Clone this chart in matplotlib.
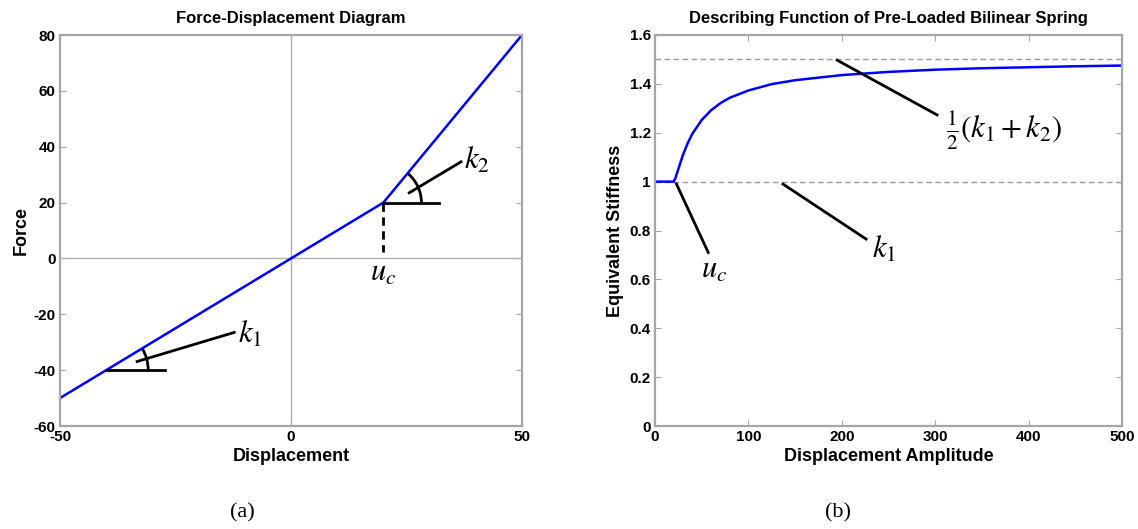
import numpy as np
import matplotlib
matplotlib.use("Agg")
import matplotlib.pyplot as plt
from matplotlib.patches import Arc
from matplotlib.transforms import ScaledTranslation

plt.rcParams["font.family"] = ["Liberation Sans", "DejaVu Sans"]
plt.rcParams["mathtext.fontset"] = "stix"
plt.rcParams["axes.unicode_minus"] = False

# ---- data -------------------------------------------------------------
# force-displacement curve (bilinear, knee at u_c)
disp = [-50, 20, 50]
force = [-50, 20, 80]
k1 = 1.0
k2 = 2.0
u_c = 20

# describing function (equivalent stiffness vs amplitude)
amplitude = [0, 20, 22, 25, 30, 35, 40, 50, 60, 70, 80, 100, 125, 150,
             200, 250, 300, 350, 400, 450, 500]
stiffness = [1.0, 1.0, 1.016, 1.052, 1.110, 1.157, 1.196, 1.252, 1.292,
             1.321, 1.343, 1.373, 1.399, 1.415, 1.436, 1.449, 1.458,
             1.464, 1.468, 1.472, 1.475]
ref_levels = [k1, (k1 + k2) / 2]

left_xticks = [-50, 0, 50]
left_yticks = [-60, -40, -20, 0, 20, 40, 60, 80]
right_xticks = [0, 100, 200, 300, 400, 500]
right_yticks = [0, 0.2, 0.4, 0.6, 0.8, 1.0, 1.2, 1.4, 1.6]
right_yticklabels = ["0", "0.2", "0.4", "0.6", "0.8", "1", "1.2", "1.4", "1.6"]

W, H = 1138, 529
fig = plt.figure(figsize=(W / 100, H / 100), dpi=100)

FRAME = "#a6a6a6"
BLUE = "#0000ff"
ANN_FS = 22
ANN = dict(fontsize=ANN_FS, fontweight="normal")
TITLE_FS = 12
LABEL_FS = 13


def style_axes(ax):
    for s in ax.spines.values():
        s.set_color(FRAME)
        s.set_linewidth(1.6)
    ax.tick_params(direction="in", top=True, right=True, length=4,
                   color=FRAME, labelsize=11, pad=3)
    for lab in ax.get_xticklabels() + ax.get_yticklabels():
        lab.set_fontweight("bold")


def px_scale(ax):
    pos = ax.get_position()
    x0, x1 = ax.get_xlim()
    y0, y1 = ax.get_ylim()
    return pos.width * W / (x1 - x0), pos.height * H / (y1 - y0)


def angle_arc(ax, x, y, slope, r_px):
    sx, sy = px_scale(ax)
    ang = np.degrees(np.arctan(slope * sy / sx))
    tr = fig.dpi_scale_trans + ScaledTranslation(x, y, ax.transData)
    d = 2 * r_px / 100
    ax.add_patch(Arc((0, 0), d, d, theta1=0, theta2=ang, transform=tr,
                     color="black", lw=2, clip_on=False))


# ---- (a) force-displacement --------------------------------------------
ax1 = fig.add_axes([60 / W, 1 - 426 / H, 462 / W, 391 / H])
ax1.set_xlim(-50, 50)
ax1.set_ylim(-60, 80)
ax1.axvline(0, color="#b0b0b0", lw=1)
ax1.axhline(0, color="#b0b0b0", lw=1)
ax1.plot(disp, force, color=BLUE, lw=1.8)
ax1.set_xticks(left_xticks)
ax1.set_yticks(left_yticks)
ax1.set_title("Force-Displacement Diagram", fontsize=TITLE_FS,
              fontweight="bold", pad=9)
ax1.set_xlabel("Displacement", fontsize=LABEL_FS, fontweight="bold", labelpad=3)
ax1.set_ylabel("Force", fontsize=LABEL_FS, fontweight="bold", labelpad=3)
style_axes(ax1)

# k2 slope marker
ax1.plot([u_c, u_c + 12], [k1 * u_c, k1 * u_c], color="black", lw=2)
angle_arc(ax1, u_c, k1 * u_c, k2, 38)
ax1.plot([25.6, 36.8], [23.5, 34.6], color="black", lw=2)
ax1.text(37.5, 35, r"$k_2$", va="center", ha="left", **ANN)
# u_c marker
ax1.plot([u_c, u_c], [k1 * u_c, 2.3], color="black", lw=2, ls=(0, (3, 2)))
ax1.text(u_c, -5, r"$u_c$", va="center", ha="center", **ANN)
# k1 slope marker
ax1.plot([-40, -27.3], [-40, -40], color="black", lw=2)
angle_arc(ax1, -40, -40, k1, 42)
ax1.plot([-33.3, -12.3], [-36.9, -26.5], color="black", lw=2)
ax1.text(-11.5, -27.4, r"$k_1$", va="center", ha="left", **ANN)

# ---- (b) describing function -------------------------------------------
ax2 = fig.add_axes([655 / W, 1 - 426 / H, 467 / W, 391 / H])
ax2.set_xlim(0, 500)
ax2.set_ylim(0, 1.6)
for lvl in ref_levels:
    ax2.axhline(lvl, color="#9a9a9a", lw=1, ls=(0, (4, 2.5)))
ax2.plot(amplitude, stiffness, color=BLUE, lw=1.8)
ax2.set_xticks(right_xticks)
ax2.set_yticks(right_yticks)
ax2.set_yticklabels(right_yticklabels)
ax2.set_title("Describing Function of Pre-Loaded Bilinear Spring",
              fontsize=TITLE_FS, fontweight="bold", pad=9)
ax2.set_xlabel("Displacement Amplitude", fontsize=LABEL_FS, fontweight="bold",
               labelpad=3)
ax2.set_ylabel("Equivalent Stiffness", fontsize=LABEL_FS, fontweight="bold",
               labelpad=4)
style_axes(ax2)

ax2.plot([23, 57], [0.99, 0.71], color="black", lw=2)
ax2.text(63, 0.64, r"$u_c$", va="center", ha="center", **ANN)
ax2.plot([137, 226], [0.99, 0.765], color="black", lw=2)
ax2.text(232, 0.72, r"$k_1$", va="center", ha="left", **ANN)
ax2.plot([195, 302], [1.497, 1.273], color="black", lw=2)
ax2.text(312, 1.21, r"$\frac{1}{2}\left(k_1+k_2\right)$", va="center",
         ha="left", **ANN)

# ---- panel captions ------------------------------------------------------
cap = dict(fontsize=16, family=["Liberation Serif"], fontweight="normal",
           ha="center", va="center")
fig.text(242 / W, 1 - 513 / H, "(a)", **cap)
fig.text(838 / W, 1 - 513 / H, "(b)", **cap)

fig.savefig("out.png", dpi=100)
